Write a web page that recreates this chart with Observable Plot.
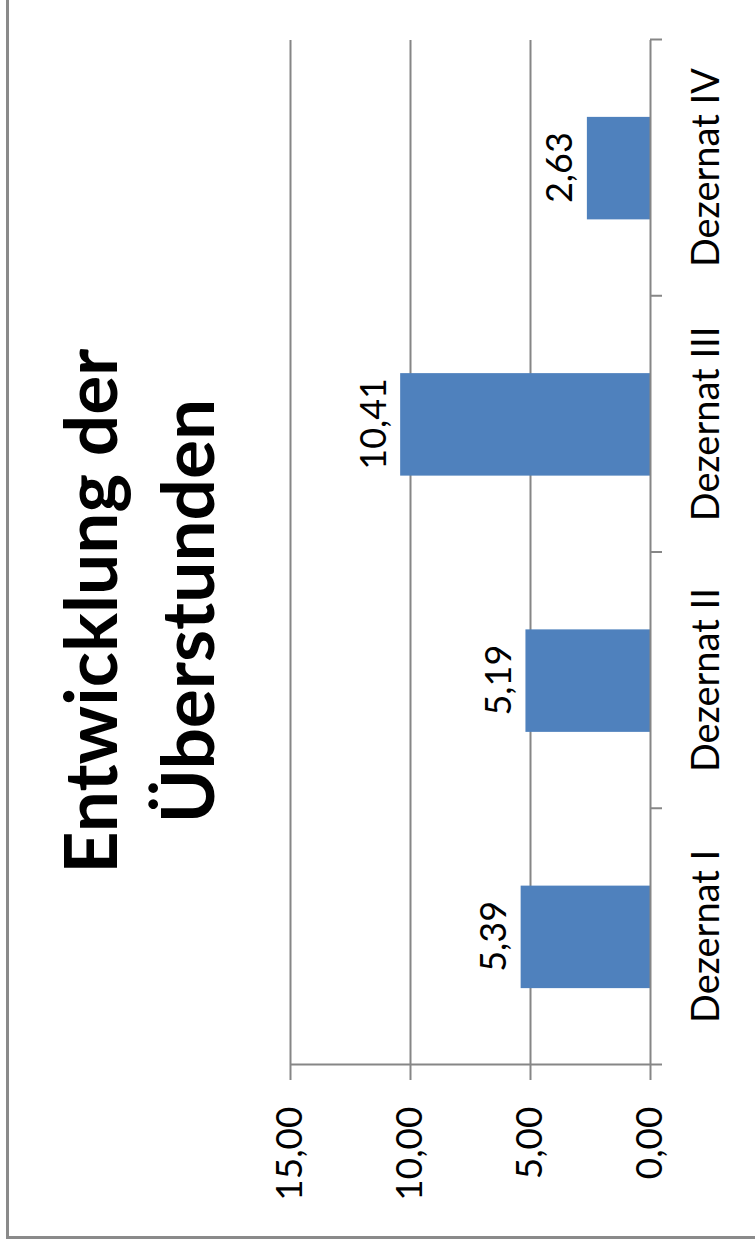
<!DOCTYPE html>
<html>
<head>
<meta charset="utf-8">
<script src="https://cdn.jsdelivr.net/npm/d3@7"></script>
<script src="https://cdn.jsdelivr.net/npm/@observablehq/plot@0.6"></script>
<style>
  html, body { margin: 0; padding: 0; background: #fff; }
  body { width: 755px; height: 1248px; overflow: hidden; position: relative; }
  #rot { position: absolute; left: 0; top: 0; width: 1248px; height: 755px;
         transform-origin: 0 0; transform: translateY(1248px) rotate(-90deg); background: #fff; }
  #border { position: absolute; left: 9px; top: 6px; width: 2000px; height: 2000px;
            border-left: 3px solid #8a8a8a; border-top: 3px solid #8a8a8a; }
  #title { position: absolute; left: 0; top: 41px; width: 1274px; text-align: center;
           font: 700 73px Lato, sans-serif; line-height: 97px; color: #000; }
  #chart { position: absolute; left: 0; top: 0; }
</style>
</head>
<body>
<div id="rot">
  <div id="border"></div>
  <div id="chart"></div>
  <div id="title"></div>
</div>
<script>
const categories = ["Dezernat I", "Dezernat II", "Dezernat III", "Dezernat IV"];
const values = [5.39, 5.19, 10.41, 2.63];
const yTicks = [0, 5, 10, 15];
const gridValues = [5, 10, 15];
const titleLines = ["Entwicklung der", "Überstunden"];

const fmt = d => d.toFixed(2).replace(".", ",");
const data = categories.map((c, i) => ({c, v: values[i], i}));
const n = categories.length;
const gray = "#868686";

document.getElementById("title").innerHTML = titleLines.join("<br>");

const chart = Plot.plot({
  width: 1248,
  height: 755,
  marginLeft: 183,
  marginRight: 40,
  marginTop: 290,
  marginBottom: 105,
  x: {domain: [0, n]},
  y: {domain: [0, 15]},
  style: {fontFamily: "Lato, sans-serif", background: "transparent", color: "#000"},
  marks: [
    Plot.ruleY(gridValues, {stroke: gray, strokeWidth: 2}),
    Plot.rectY(data, {x1: d => d.i + 0.3, x2: d => d.i + 0.7, y: "v", fill: "#4f81bd"}),
    Plot.ruleX([0], {y1: 0, y2: 15, stroke: gray, strokeWidth: 2}),
    Plot.ruleY([0], {stroke: gray, strokeWidth: 2}),
    Plot.axisY({ticks: yTicks, tickSize: 15, tickPadding: 27, tickFormat: fmt,
                fontSize: 37, stroke: gray, strokeWidth: 2, fill: "#000", label: null}),
    Plot.axisX({ticks: d3.range(n + 1), tickSize: 12, tickFormat: () => "",
                stroke: gray, strokeWidth: 2, label: null}),
    Plot.axisX({ticks: categories.map((_, i) => i + 0.5), tickSize: 0, tickPadding: 42,
                tickFormat: t => categories[Math.floor(t)], fontSize: 38, fill: "#000", label: null}),
    Plot.text(data, {x: d => d.i + 0.5, y: "v", text: d => fmt(d.v), lineAnchor: "bottom",
                     dy: -15, fontSize: 36, fill: "#000"})
  ]
});
document.getElementById("chart").appendChild(chart);
</script>
</body>
</html>
